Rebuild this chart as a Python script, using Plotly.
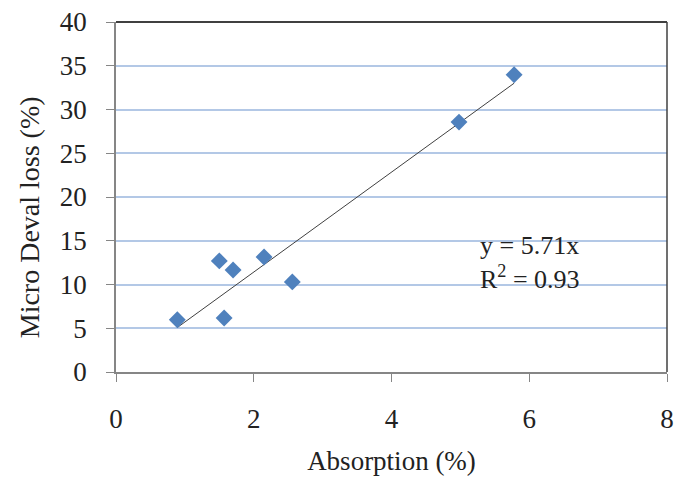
import plotly.graph_objects as go

absorption = [0.89, 1.50, 1.57, 1.70, 2.15, 2.56, 4.98, 5.78]
micro_deval = [5.97, 12.7, 6.17, 11.65, 13.15, 10.3, 28.56, 33.97]
slope = 5.71
r2 = 0.93
x_ticks = [0, 2, 4, 6, 8]
y_ticks = [0, 5, 10, 15, 20, 25, 30, 35, 40]

FONT = "Liberation Serif"
TXT = "#222222"

fig = go.Figure()
x_min, x_max = min(absorption), max(absorption)
fig.add_trace(go.Scatter(
    x=[x_min, x_max], y=[slope * x_min, slope * x_max],
    mode="lines", line=dict(color="#404040", width=1), showlegend=False,
    hoverinfo="skip"))
fig.add_trace(go.Scatter(
    x=absorption, y=micro_deval, mode="markers",
    marker=dict(symbol="diamond", size=13, color="#4F81BD",
                line=dict(width=0)),
    showlegend=False))

fig.add_annotation(
    x=5.25, y=12.5, xref="x", yref="y", xanchor="left", yanchor="middle",
    align="left", showarrow=False,
    text=f"y = {slope}x<br>R<sup>2</sup> = {r2}",
    font=dict(family=FONT, size=26, color=TXT))

# y-axis title placed as in the reference (slightly below centre)
fig.add_annotation(
    x=-0.158, y=0.442, xref="paper", yref="paper", xanchor="center",
    yanchor="middle", showarrow=False, textangle=-90,
    text="Micro Deval loss (%)",
    font=dict(family=FONT, size=28, color=TXT))

# dark top and right frame lines
fig.add_shape(type="line", xref="paper", yref="paper", x0=0, x1=1, y0=1, y1=1,
              line=dict(color="#404040", width=2))
fig.add_shape(type="line", xref="paper", yref="paper", x0=1, x1=1, y0=0, y1=1,
              line=dict(color="#404040", width=1.5))

fig.update_layout(
    width=681, height=482,
    margin=dict(l=116, r=7, t=17, b=110),
    paper_bgcolor="white", plot_bgcolor="white",
    font=dict(family=FONT, size=27, color=TXT),
    xaxis=dict(range=[0, 8], tickvals=x_ticks, showgrid=False, zeroline=False,
               showline=True, linecolor="#868686", linewidth=1.5,
               ticks="outside", ticklen=8, tickcolor="#868686",
               ticklabelstandoff=14,
               tickfont=dict(family=FONT, size=27, color=TXT),
               title=dict(text="Absorption (%)", standoff=18,
                          font=dict(family=FONT, size=27, color=TXT))),
    yaxis=dict(range=[0, 40], tickvals=y_ticks, showgrid=True,
               gridcolor="#B3C8E6", gridwidth=2, zeroline=False,
               showline=True, linecolor="#868686", linewidth=1.5,
               ticks="outside", ticklen=8, tickcolor="#868686",
               ticklabelstandoff=14,
               tickfont=dict(family=FONT, size=27, color=TXT)),
)

fig.write_html("out.html")
